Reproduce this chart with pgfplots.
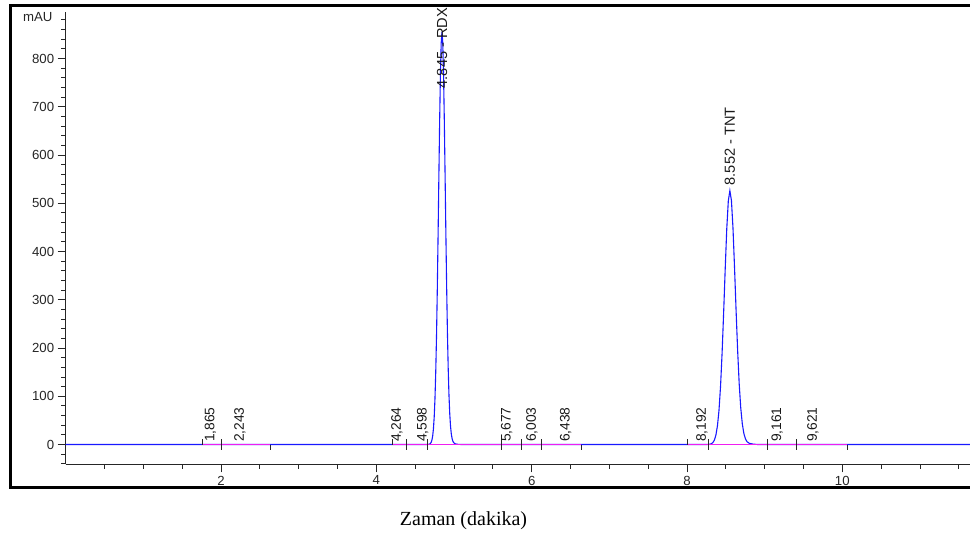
\documentclass[border=0pt]{standalone}
\usepackage{pgfplots}
\pgfplotsset{compat=1.18}
\usepackage{fontspec}
\setmainfont{Liberation Sans}
\newfontfamily\timesfont{Liberation Serif}
\definecolor{peakblue}{RGB}{25,25,255}
\definecolor{basemag}{RGB}{240,30,240}
\begin{document}
\begin{tikzpicture}[x=1pt,y=1pt]
\useasboundingbox (0,0) rectangle (970,535);
\begin{axis}[
 at={(65.7pt,70.7pt)}, anchor=south west,
 scale only axis, width=904.3pt, height=452.1pt,
 xmin=0, xmax=11.644, ymin=-41, ymax=896,
 axis lines*=left,
 axis line style={black!85, line width=1pt},
 xtick={2,4,6,8,10}, minor xtick={0.5,1,...,11.5},
 ytick={0,100,...,800}, minor ytick={-40,-20,...,880},
 tick align=outside, major tick length=8pt, minor tick length=4.5pt,
 tick style={black!85, line width=0.9pt},
 every tick label/.append style={font=\fontsize{13.2}{15}\selectfont, text=black!85},
 /pgf/number format/assume math mode=true,
 clip=false,
]
\addplot[peakblue, line width=1.1pt] coordinates {
(0,0) (4.655,0) (4.675,0.35) (4.695,1.9) (4.705,4.3) (4.715,8.9) (4.725,17.4)
(4.735,32.4) (4.745,57.2) (4.755,95.7) (4.765,151.5) (4.775,227) (4.785,323)
(4.795,435) (4.805,555) (4.815,670) (4.825,767) (4.835,832) (4.845,855)
(4.855,833) (4.865,769) (4.875,673) (4.885,559) (4.895,440) (4.905,329)
(4.915,234) (4.925,159) (4.935,103) (4.945,64) (4.955,38) (4.965,22)
(4.975,12.5) (4.985,7) (4.995,4) (5.015,1.5) (5.045,0.5) (5.095,0)
(8.252,0) (8.282,0.3) (8.312,1.5) (8.332,3.8) (8.352,8.9) (8.372,19.3)
(8.392,38.6) (8.412,71) (8.432,121) (8.452,190) (8.472,274) (8.492,364)
(8.512,447) (8.532,505) (8.552,526) (8.572,506) (8.592,449) (8.612,367)
(8.632,278) (8.652,195) (8.672,126) (8.692,76) (8.712,43) (8.732,23)
(8.752,12) (8.772,6) (8.802,2.5) (8.852,0.8) (8.912,0) (11.644,0)
};
\addplot[basemag, line width=1.4pt, unbounded coords=jump] table {
x y
1.756 0
2.63 0
nan nan
4.21 0
6.64 0
nan nan
8.01 0
10.06 0
};
\addplot[black!85, line width=0.9pt, unbounded coords=jump] table {
x y
1.756 0
1.756 10.4
nan nan
4.21 0
4.21 10.4
nan nan
8.01 0
8.01 10.4
nan nan
2.0 -10.4
2.0 10.4
nan nan
4.39 -10.4
4.39 10.4
nan nan
4.66 -10.4
4.66 10.4
nan nan
5.61 -10.4
5.61 10.4
nan nan
5.87 -10.4
5.87 10.4
nan nan
6.12 -10.4
6.12 10.4
nan nan
8.28 -10.4
8.28 10.4
nan nan
9.04 -10.4
9.04 10.4
nan nan
9.41 -10.4
9.41 10.4
nan nan
2.63 -10.4
2.63 0
nan nan
6.64 -10.4
6.64 0
nan nan
10.06 -10.4
10.06 0
};
\begin{scope}[every node/.style={rotate=90, anchor=west, inner sep=0pt, font=\fontsize{13.8}{15}\selectfont, text=black!90}]
\node at (axis cs:1.865,5) {1,865};
\node at (axis cs:2.243,5) {2,243};
\node at (axis cs:4.264,5) {4,264};
\node at (axis cs:4.598,5) {4,598};
\node at (axis cs:5.677,5) {5,677};
\node at (axis cs:6.003,5) {6,003};
\node at (axis cs:6.438,5) {6,438};
\node at (axis cs:8.192,5) {8,192};
\node at (axis cs:9.161,5) {9,161};
\node at (axis cs:9.621,5) {9,621};
\end{scope}
\begin{scope}[every node/.style={rotate=90, anchor=west, inner sep=0pt, font=\fontsize{14.6}{16}\selectfont, text=black!90}]
\node at (axis cs:4.845,738) {4.845 - RDX};
\node at (axis cs:8.552,537) {8.552 - TNT};
\end{scope}
\node[anchor=east, inner sep=0pt, font=\fontsize{13.2}{15}\selectfont, text=black!85] at ([xshift=-13pt]axis cs:0,887) {mAU};
\end{axis}
\draw[line width=3pt, black] (975,529.3) -- (10,529.3) -- (10,47) -- (975,47);
\node[anchor=base, inner sep=0pt, font=\timesfont\fontsize{20}{24}\selectfont] at (463.5,9) {Zaman (dakika)};
\end{tikzpicture}
\end{document}
